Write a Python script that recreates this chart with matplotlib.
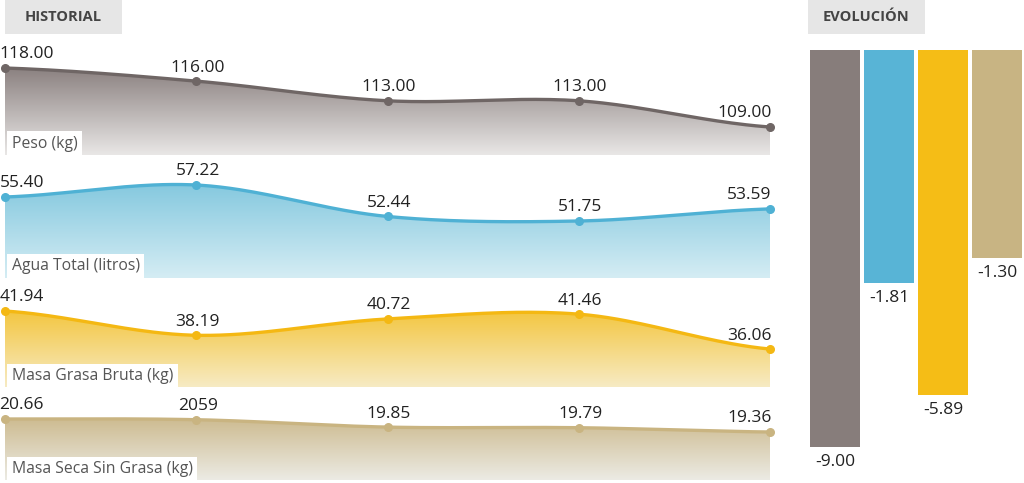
import numpy as np
import matplotlib.pyplot as plt
from matplotlib.colors import LinearSegmentedColormap
from matplotlib.patches import Rectangle

plt.rcParams['font.family'] = ['Open Sans', 'DejaVu Sans']

# data
series_names = ['Peso (kg)', 'Agua Total (litros)', 'Masa Grasa Bruta (kg)', 'Masa Seca Sin Grasa (kg)']
peso = [118.00, 116.00, 113.00, 113.00, 109.00]
agua = [55.40, 57.22, 52.44, 51.75, 53.59]
grasa = [41.94, 38.19, 40.72, 41.46, 36.06]
seca = [20.66, 20.59, 19.85, 19.79, 19.36]
point_labels = [
    ['118.00', '116.00', '113.00', '113.00', '109.00'],
    ['55.40', '57.22', '52.44', '51.75', '53.59'],
    ['41.94', '38.19', '40.72', '41.46', '36.06'],
    ['20.66', '2059', '19.85', '19.79', '19.36'],
]
evolucion = [-9.00, -1.81, -5.89, -1.30]

line_colors = ['#6f6665', '#4fb1d4', '#f4b813', '#c9b481']
top_colors = ['#8a807f', '#86c9df', '#f3c640', '#cdbb90']
bottom_colors = ['#e9e7e6', '#d5edf4', '#f7ebc4', '#ecebe4']
bar_colors = ['#877d7b', '#58b4d6', '#f5bd16', '#c8b483']

W, H = 1024, 483
fig = plt.figure(figsize=(W / 100, H / 100), dpi=100)


def px_axes(x0, y0, x1, y1):
    return fig.add_axes([x0 / W, 1 - y1 / H, (x1 - x0) / W, (y1 - y0) / H])


def catmull(x, y, n=40):
    x = np.asarray(x, float)
    y = np.asarray(y, float)
    xs, ys = [], []
    for i in range(len(x) - 1):
        p0 = y[i - 1] if i > 0 else y[i]
        p3 = y[i + 2] if i + 2 < len(y) else y[i + 1]
        m1 = (y[i + 1] - p0) / 2
        m2 = (p3 - y[i]) / 2
        t = np.linspace(0, 1, n, endpoint=False)
        h00 = 2 * t**3 - 3 * t**2 + 1
        h10 = t**3 - 2 * t**2 + t
        h01 = -2 * t**3 + 3 * t**2
        h11 = t**3 - t**2
        xs.append(x[i] + t * (x[i + 1] - x[i]))
        ys.append(h00 * y[i] + h10 * m1 + h01 * y[i + 1] + h11 * m2)
    xs.append([x[-1]])
    ys.append([y[-1]])
    return np.concatenate(xs), np.concatenate(ys)


panels = [peso, agua, grasa, seca]
panel_px = [(40, 155), (160, 278), (285, 387), (395, 480)]
ylims = [(104.73, 122.27), (43.09, 61.02), (30.19, 45.97), (14.56, 23.06)]
x = np.arange(5)

for k, vals in enumerate(panels):
    y0, y1 = panel_px[k]
    ax = px_axes(5, y0, 770, y1)
    ax.set_xlim(0, 4)
    ax.set_ylim(*ylims[k])
    ax.axis('off')
    sx, sy = catmull(x, vals)
    poly = ax.fill_between(sx, sy, ylims[k][0], color='none', lw=0)
    cmap = LinearSegmentedColormap.from_list('g', [bottom_colors[k], top_colors[k]])
    grad = np.linspace(0, 1, 256).reshape(-1, 1)
    top = max(vals)
    im = ax.imshow(grad, cmap=cmap, aspect='auto', origin='lower',
                   extent=[0, 4, ylims[k][0], top], zorder=1)
    path = poly.get_paths()[0]
    im.set_clip_path(path, transform=ax.transData)
    ax.plot(sx, sy, color=line_colors[k], lw=2.4, zorder=3, clip_on=False)
    ax.scatter(x, vals, s=30, color=line_colors[k], zorder=4, clip_on=False)
    for i, v in enumerate(vals):
        ha = 'left' if i == 0 else ('right' if i == 4 else 'center')
        dx = -4 if i == 0 else 1
        ax.annotate(point_labels[k][i], (i, v), xytext=(dx, 4), textcoords='offset points',
                    ha=ha, va='bottom', fontsize=12.5, color='#222222', zorder=5)
    # series name box
    ax.text(0.009, 0.03, series_names[k], transform=ax.transAxes, ha='left', va='bottom',
            fontsize=11.3, color='#555555', zorder=6,
            bbox=dict(boxstyle='square,pad=0.28', fc='white', ec='none'))

# header boxes
for x0, label in [(5, 'HISTORIAL'), (808, 'EVOLUCIÓN')]:
    fig.patches.append(Rectangle((x0 / W, 1 - 34 / H), 117 / W, 34 / H,
                                 transform=fig.transFigure, fc='#e6e6e6', ec='none'))
    fig.text((x0 + 58.5) / W, 1 - 17 / H, label, ha='center', va='center',
             fontsize=10.5, fontweight='bold', color='#444444')

# evolution bars (cube-root scale, hanging from zero at the top)
bax = px_axes(808, 50, 1024, 483)
bax.set_xlim(-0.5, 3.5)
bax.set_yscale('function', functions=(np.cbrt, lambda y: y ** 3))
bax.set_ylim(-11.68, 0)
bax.axis('off')
bax.bar(np.arange(4), evolucion, width=0.92, color=bar_colors)
for i, v in enumerate(evolucion):
    bax.annotate(f'{v:.2f}', (i, v), xytext=(0, -5), textcoords='offset points',
                 ha='center', va='top', fontsize=12.5, color='#222222')

fig.savefig('out.png', dpi=100)
